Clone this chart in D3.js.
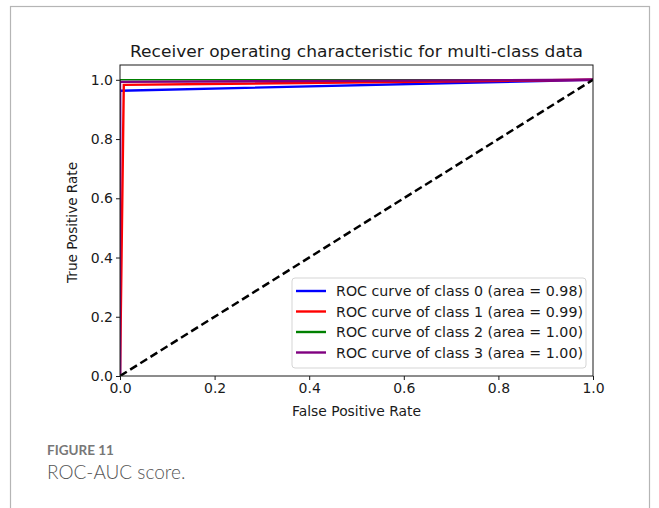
<!DOCTYPE html>
<html>
<head>
<meta charset="utf-8">
<script src="https://cdn.jsdelivr.net/npm/d3@7"></script>
<style>
html,body{margin:0;padding:0;background:#fff;}
svg{display:block;}
</style>
</head>
<body>
<svg id="chart" width="659" height="508"></svg>
<script>
// ---- data ----
const classNames = ["ROC curve of class 0 (area = 0.98)","ROC curve of class 1 (area = 0.99)","ROC curve of class 2 (area = 1.00)","ROC curve of class 3 (area = 1.00)"];
const colors = ["blue","red","green","purple"];
const fpr0 = [0, 0, 1];      const tpr0 = [0, 0.963, 1];
const fpr1 = [0, 0.008, 1];  const tpr1 = [0, 0.983, 1];
const fpr2 = [0, 0, 1];      const tpr2 = [0, 1.0, 1];
const fpr3 = [0, 0, 1];      const tpr3 = [0, 0.993, 1];
const xTicks = [0, 0.2, 0.4, 0.6, 0.8, 1.0];
const yTicks = [0, 0.2, 0.4, 0.6, 0.8, 1.0];
const diagonal = [[0,0],[1,1]];

const series = [[fpr0,tpr0],[fpr1,tpr1],[fpr2,tpr2],[fpr3,tpr3]];

const svg = d3.select("#chart");
// outer frame
svg.append("rect").attr("x",10.5).attr("y",6.5).attr("width",639).attr("height",520)
  .attr("fill","none").attr("stroke","#b5b5b5").attr("stroke-width",1.2);

const L=120, R=593, T=65, B=376;
const x = d3.scaleLinear().domain([0,1]).range([L,R]);
const y = d3.scaleLinear().domain([0,1.05]).range([B,T]);

const fontAx = "DejaVu Sans, sans-serif";
const ink = "#1a1a1a";

const g = svg.append("g");
svg.append("clipPath").attr("id","clip").append("rect")
  .attr("x",L).attr("y",T).attr("width",R-L).attr("height",B-T);

const line = d3.line().x(d=>x(d[0])).y(d=>y(d[1]));
const plot = g.append("g").attr("clip-path","url(#clip)");
series.forEach((s,i)=>{
  const pts = s[0].map((v,j)=>[v, s[1][j]]);
  plot.append("path").attr("d", line(pts)).attr("fill","none")
    .attr("stroke", colors[i]).attr("stroke-width", i===2?1.5:2.4);
});
plot.append("path").attr("d", line(diagonal)).attr("fill","none")
  .attr("stroke","black").attr("stroke-width",2.5).attr("stroke-dasharray","8,4");

// axes
const xAxis = d3.axisBottom(x).tickValues(xTicks).tickFormat(d3.format(".1f")).tickSize(4).tickSizeOuter(0);
const yAxis = d3.axisLeft(y).tickValues(yTicks).tickFormat(d3.format(".1f")).tickSize(4).tickSizeOuter(0);
const gx = g.append("g").attr("transform",`translate(0,${B})`).call(xAxis);
const gy = g.append("g").attr("transform",`translate(${L},0)`).call(yAxis);
[gx,gy].forEach(a=>{
  a.select(".domain").remove();
  a.selectAll("text").attr("font-family",fontAx).attr("font-size",14).attr("fill",ink);
  a.selectAll("line").attr("stroke",ink);
});
gx.selectAll("text").attr("dy","0.71em").attr("y",7);
gy.selectAll("text").attr("x",-7);

// spines
g.append("rect").attr("x",L).attr("y",T).attr("width",R-L).attr("height",B-T)
  .attr("fill","none").attr("stroke",ink).attr("stroke-width",1);

// title & labels
g.append("text").attr("x",(L+R)/2).attr("y",57).attr("text-anchor","middle")
  .attr("font-family",fontAx).attr("font-size",16.5).attr("fill",ink)
  .attr("textLength",453).attr("lengthAdjust","spacingAndGlyphs")
  .text("Receiver operating characteristic for multi-class data");
g.append("text").attr("x",(L+R)/2).attr("y",416).attr("text-anchor","middle")
  .attr("font-family",fontAx).attr("font-size",14).attr("fill",ink)
  .attr("textLength",129).attr("lengthAdjust","spacingAndGlyphs")
  .text("False Positive Rate");
g.append("text").attr("transform",`translate(77,${(T+B)/2+2}) rotate(-90)`).attr("text-anchor","middle")
  .attr("font-family",fontAx).attr("font-size",14).attr("fill",ink)
  .attr("textLength",121).attr("lengthAdjust","spacingAndGlyphs")
  .text("True Positive Rate");

// legend
const lg = g.append("g");
lg.append("rect").attr("x",292).attr("y",278).attr("width",294).attr("height",90).attr("rx",3)
  .attr("fill","white").attr("fill-opacity",0.9).attr("stroke","#d5d5d5");
classNames.forEach((n,i)=>{
  const yy = 291 + i*20.5;
  lg.append("line").attr("x1",296).attr("x2",326).attr("y1",yy).attr("y2",yy)
    .attr("stroke",colors[i]).attr("stroke-width",2.4);
  lg.append("text").attr("x",336).attr("y",yy+5).attr("font-family",fontAx)
    .attr("font-size",14).attr("fill",ink)
    .attr("textLength",247).attr("lengthAdjust","spacingAndGlyphs").text(n);
});

// caption
svg.append("text").attr("x",47).attr("y",455).attr("font-family","Lato, 'Open Sans', sans-serif")
  .attr("font-size",13.5).attr("font-weight","bold").attr("fill","#777").text("FIGURE 11");
svg.append("text").attr("x",47).attr("y",479).attr("font-family","Lato, 'Open Sans', sans-serif")
  .attr("font-size",19).attr("font-weight",300).attr("fill","#555").text("ROC-AUC score.");
</script>
</body>
</html>
